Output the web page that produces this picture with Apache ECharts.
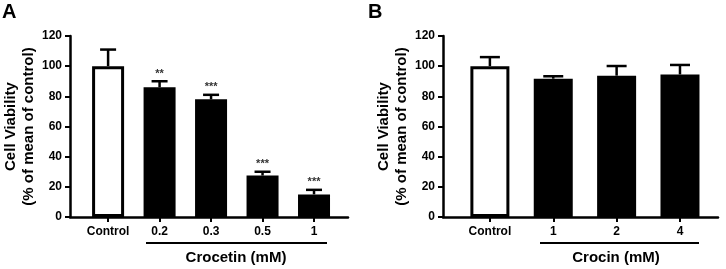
<!DOCTYPE html>
<html>
<head>
<meta charset="utf-8" />
<title>Cell viability</title>
<style>
  html, body { margin: 0; padding: 0; background: #fff; }
  #chart { width: 726px; height: 269px; }
</style>
</head>
<body>
<div id="chart"></div>
<script src="https://cdn.jsdelivr.net/npm/echarts@6/dist/echarts.min.js"></script>
<script>
// panel A: crocetin
const catsA = ['Control', '0.2', '0.3', '0.5', '1'];
const meanA = [100, 86, 78, 27.5, 15];
const errA = [11, 4, 3, 2.5, 3];
const sigA = ['', '**', '***', '***', '***'];

// panel B: crocin
const catsB = ['Control', '1', '2', '4'];
const meanB = [100, 91.7, 93.7, 94.5];
const errB = [6, 1.6, 6.4, 6.3];
const sigB = ['', '', '', ''];

const yTicks = [0, 20, 40, 60, 80, 100, 120];

const FONT = '"Liberation Sans", Arial, sans-serif';

function xAxisFor(cats, max, gridIndex) {
  const idx = cats.map((c, i) => i);
  return {
    type: 'value', gridIndex, min: -0.74, max,
    splitLine: { show: false },
    axisLine: { onZero: false, lineStyle: { color: '#000', width: 2.5 } },
    axisTick: { customValues: idx, length: 5, lineStyle: { color: '#000', width: 2 } },
    axisLabel: {
      customValues: idx, margin: 9,
      formatter: v => cats[Math.round(v)],
      color: '#000', fontWeight: 'bold', fontSize: 12, fontFamily: FONT
    }
  };
}

function yAxisFor(gridIndex) {
  return {
    type: 'value', gridIndex, min: yTicks[0], max: yTicks[yTicks.length - 1], interval: 20,
    name: 'Cell Viability\n(% of mean of control)',
    nameLocation: 'middle', nameRotate: 90, nameGap: 27,
    nameTextStyle: { color: '#000', fontWeight: 'bold', fontSize: 15, lineHeight: 18, fontFamily: FONT },
    splitLine: { show: false },
    axisLine: { show: true, onZero: false, lineStyle: { color: '#000', width: 2.5 } },
    axisTick: { show: true, length: 5, lineStyle: { color: '#000', width: 2 } },
    axisLabel: { margin: 8, color: '#000', fontWeight: 'bold', fontSize: 12, fontFamily: FONT }
  };
}

function barSeries(mean, idx, barWidth) {
  return {
    type: 'bar', xAxisIndex: idx, yAxisIndex: idx, barWidth,
    data: mean.map((v, i) => ({
      value: [i, v],
      itemStyle: { color: i === 0 ? '#fff' : '#000', borderColor: '#000', borderWidth: 3 }
    })),
    z: 2
  };
}

// upper error bar + significance stars
function errSeries(mean, err, sig, idx, capHalf) {
  return {
    type: 'custom', xAxisIndex: idx, yAxisIndex: idx, z: 3,
    data: mean.map((v, i) => [i, v, v + err[i]]),
    renderItem: (params, api) => {
      const i = params.dataIndex;
      const lo = api.coord([i, mean[i]]);
      const hi = api.coord([i, mean[i] + err[i]]);
      const st = { stroke: '#000', lineWidth: 2.5 };
      const children = [
        { type: 'line', shape: { x1: lo[0], y1: lo[1], x2: hi[0], y2: hi[1] }, style: st },
        { type: 'line', shape: { x1: hi[0] - capHalf, y1: hi[1], x2: hi[0] + capHalf, y2: hi[1] }, style: st }
      ];
      if (sig[i]) {
        children.push({
          type: 'text',
          style: {
            text: sig[i], x: hi[0], y: hi[1] - 2, align: 'center', verticalAlign: 'bottom',
            fill: '#333', font: 'bold 11px ' + FONT
          }
        });
      }
      return { type: 'group', children };
    }
  };
}

const chart = echarts.init(document.getElementById('chart'));
chart.setOption({
  animation: false,
  grid: [
    { left: 70, top: 36, width: 278, height: 181 },
    { left: 443, top: 36, width: 275, height: 181 }
  ],
  xAxis: [xAxisFor(catsA, 4.66, 0), xAxisFor(catsB, 3.60, 1)],
  yAxis: [yAxisFor(0), yAxisFor(1)],
  series: [
    barSeries(meanA, 0, 32),
    errSeries(meanA, errA, sigA, 0, 8),
    barSeries(meanB, 1, 39),
    errSeries(meanB, errB, sigB, 1, 10)
  ],
  graphic: [
    { type: 'text', left: 2, top: 2, style: { text: 'A', fill: '#000', font: 'bold 20px ' + FONT } },
    { type: 'text', left: 368, top: 2, style: { text: 'B', fill: '#000', font: 'bold 20px ' + FONT } },
    { type: 'line', shape: { x1: 146, y1: 243, x2: 327, y2: 243 }, style: { stroke: '#000', lineWidth: 2 } },
    { type: 'text', x: 236, y: 258, style: { text: 'Crocetin (mM)', align: 'center', verticalAlign: 'middle', fill: '#000', font: 'bold 15px ' + FONT } },
    { type: 'line', shape: { x1: 540, y1: 243, x2: 699, y2: 243 }, style: { stroke: '#000', lineWidth: 2 } },
    { type: 'text', x: 616, y: 258, style: { text: 'Crocin (mM)', align: 'center', verticalAlign: 'middle', fill: '#000', font: 'bold 15px ' + FONT } }
  ]
});
</script>
</body>
</html>
